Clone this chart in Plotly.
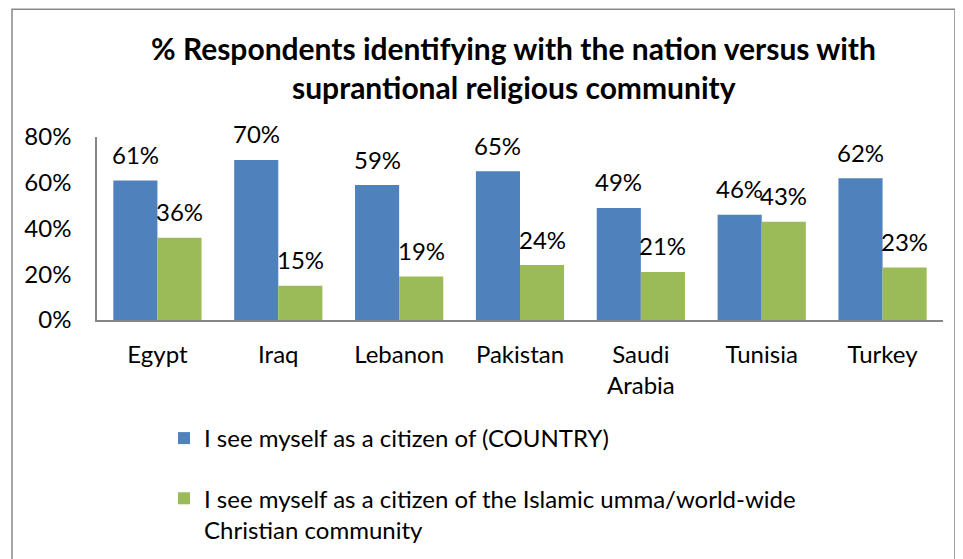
import plotly.graph_objects as go

countries = ["Egypt", "Iraq", "Lebanon", "Pakistan", "Saudi Arabia", "Tunisia", "Turkey"]
tick_labels = ["Egypt", "Iraq", "Lebanon", "Pakistan", "Saudi<br>Arabia", "Tunisia", "Turkey"]
nation = [61, 70, 59, 65, 49, 46, 62]
umma = [36, 15, 19, 24, 21, 43, 23]
series_names = [
    "I see myself as a citizen of (COUNTRY)",
    "I see myself as a citizen of the Islamic umma/world-wide<br>Christian community",
]
title_lines = [
    "% Respondents identifying with the nation versus with",
    "suprantional religious community",
]
y_ticks = [0, 20, 40, 60, 80]

BLUE = "#4F81BD"
GREEN = "#9BBB59"
FONT = "Lato"
AX = "#868686"

# page body has an 8px margin: figure pixel = screen pixel - 8
W, H = 955, 551
L, R, T, B = 89, 20, 129, 238.5
pw = W - L - R
ph = H - T - B

fig = go.Figure()
fig.add_trace(go.Bar(x=countries, y=nation, name=series_names[0], marker_color=BLUE,
                     marker_line_width=0, legendgroup="a"))
fig.add_trace(go.Bar(x=countries, y=umma, name=series_names[1], marker_color=GREEN,
                     marker_line_width=0, legendgroup="b"))

annotations = []
bar_px = pw / len(countries) * 0.73 / 2
for vals, sh in ((nation, -bar_px / 2), (umma, bar_px / 2)):
    for c, v in zip(countries, vals):
        annotations.append(dict(x=c, y=v, xref="x", yref="y", text=f"{v}%", showarrow=False,
                                xshift=sh, yshift=26, yanchor="middle",
                                font=dict(family=FONT, size=24, color="black")))

def px_x(p):
    return (p - L) / pw

def px_y(p):
    return (H - B - p) / ph

for line, yc in zip(title_lines, (40, 79)):
    annotations.append(dict(x=px_x(505.5), y=px_y(yc), xref="paper", yref="paper",
                            text=f"<b>{line}</b>", showarrow=False, xanchor="center",
                            yanchor="middle", font=dict(family=FONT, size=30, color="black")))

fig.update_layout(
    width=W, height=H, autosize=False,
    margin=dict(l=L, r=R, t=T, b=B, pad=0, autoexpand=False),
    paper_bgcolor="white", plot_bgcolor="white",
    barmode="group", bargap=0.27, bargroupgap=0,
    font=dict(family=FONT, size=24, color="black"),
    showlegend=True,
    legend=dict(orientation="v", xref="container", yref="container",
                x=156 / W, y=1 - 408 / H, xanchor="left", yanchor="top",
                tracegroupgap=26, valign="top", font=dict(family=FONT, size=24, color="black"),
                bgcolor="rgba(0,0,0,0)"),
    annotations=annotations,
    shapes=[dict(type="rect", xref="paper", yref="paper",
                 x0=px_x(4), x1=px_x(947), y0=px_y(580), y1=px_y(1),
                 line=dict(color="#888888", width=1.5), fillcolor="rgba(0,0,0,0)", layer="above")],
)
fig.update_xaxes(tickvals=countries, ticktext=tick_labels, showline=True, linecolor=AX,
                 linewidth=1.5, showgrid=False, ticks="", ticklabelstandoff=12, automargin=False,
                 tickfont=dict(family=FONT, size=24, color="black"))
fig.update_yaxes(range=[0, 80], tickvals=y_ticks, ticktext=[f"{t}%" for t in y_ticks],
                 showline=True, linecolor=AX, linewidth=1.5, showgrid=False, zeroline=False,
                 ticks="", ticklabelstandoff=19, automargin=False,
                 tickfont=dict(family=FONT, size=24, color="black"))

fig.write_html("out.html")
